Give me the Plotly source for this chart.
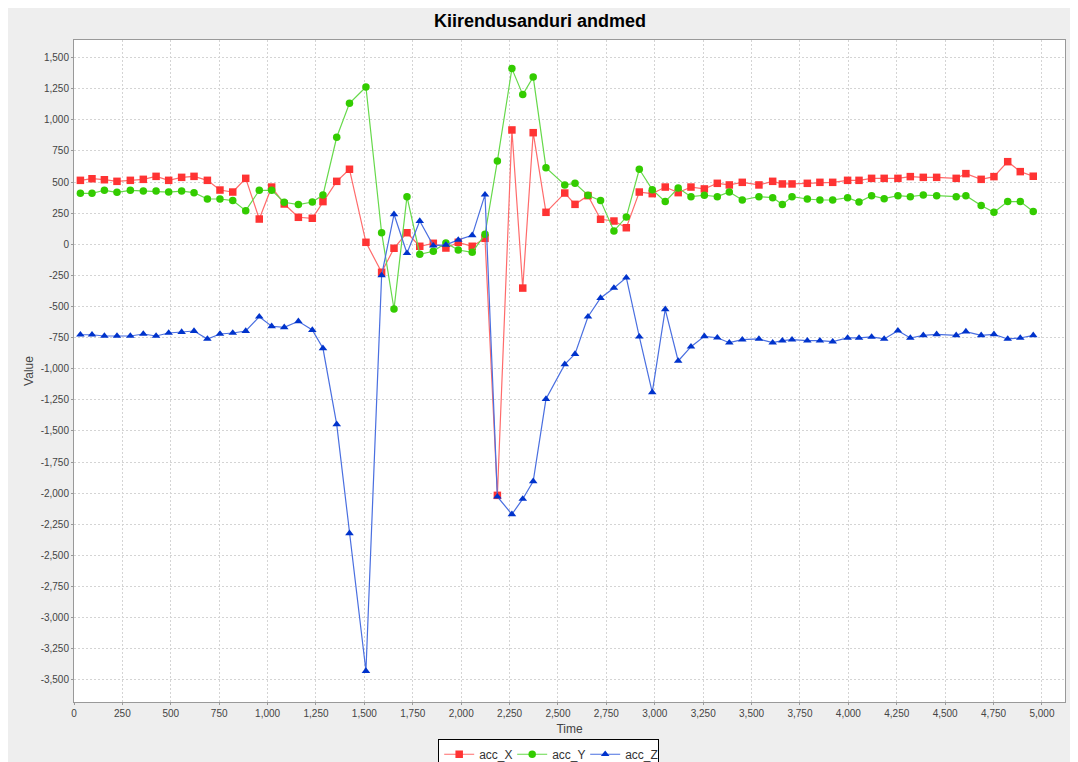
import plotly.graph_objects as go

# ---- data ----
time = [33, 93, 157, 222, 291, 358, 424, 489, 556, 620,
        689, 754, 820, 887, 957, 1021, 1086, 1159, 1231, 1286,
        1357, 1423, 1508, 1589, 1653, 1720, 1786, 1856, 1921, 1985,
        2057, 2123, 2187, 2262, 2318, 2372, 2438, 2535, 2588, 2655,
        2720, 2789, 2853, 2920, 2987, 3054, 3121, 3187, 3256, 3323,
        3385, 3452, 3538, 3609, 3659, 3709, 3788, 3853, 3919, 3996,
        4055, 4120, 4185, 4256, 4320, 4387, 4456, 4557, 4607, 4686,
        4752, 4823, 4888, 4955]

acc_X = [514, 527, 519, 506, 514, 522, 546, 514, 538, 546,
         514, 436, 420, 530, 203, 460, 324, 217, 209, 343,
         506, 603, 16, -225, -32, 93, -16, 8, -30, 16,
         -16, 48, -2018, 919, -352, 897, 257, 412, 321, 391,
         201, 187, 133, 420, 407, 460, 415, 460, 445, 490,
         477, 498, 477, 506, 485, 485, 490, 498, 498, 514,
         514, 530, 530, 530, 544, 538, 538, 530, 568, 522,
         544, 664, 584, 547]

acc_Y = [410, 410, 434, 418, 434, 428, 428, 420, 428, 415,
         364, 364, 351, 270, 434, 434, 338, 319, 340, 396,
         860, 1133, 1264, 93, -520, 383, -80, -56, 10, -46,
         -64, 80, 670, 1412, 1203, 1345, 616, 477, 490, 394,
         351, 107, 219, 603, 439, 343, 452, 383, 394, 383,
         420, 356, 383, 375, 319, 383, 364, 356, 356, 375,
         340, 391, 367, 391, 383, 396, 391, 383, 391, 311,
         257, 343, 343, 263]

acc_Z = [-727, -727, -737, -737, -737, -721, -737, -713, -705, -697,
         -761, -721, -713, -697, -582, -659, -667, -619, -689, -836,
         -1447, -2323, -3430, -250, 241, -72, 187, -11, -5, 35,
         72, 399, -2029, -2170, -2047, -1905, -1244, -965, -882, -582,
         -432, -351, -268, -743, -1190, -523, -938, -823, -740, -751,
         -791, -767, -761, -791, -775, -767, -775, -775, -783, -753,
         -753, -745, -761, -694, -753, -732, -724, -732, -702, -732,
         -724, -761, -753, -732]

x_ticks = list(range(0, 5001, 250))
y_ticks = list(range(-3500, 1501, 250))
x_tick_labels = [f"{v:,}" for v in x_ticks]
y_tick_labels = [f"{v:,}" for v in y_ticks]

series = [
    ("acc_X", acc_X, "square", "#ff3333", "#ff6b6b"),
    ("acc_Y", acc_Y, "circle", "#33cc00", "#66d94a"),
    ("acc_Z", acc_Z, "triangle-up", "#0033cc", "#4a6fe0"),
]

fig = go.Figure()
for name, vals, sym, mcol, lcol in series:
    fig.add_trace(go.Scatter(
        x=time, y=vals, name=name, mode="lines+markers",
        line=dict(color=lcol, width=1.2),
        marker=dict(symbol=sym, color=mcol, size=7.5, line=dict(width=0)),
    ))

tick_font = dict(family="Liberation Sans", size=10, color="#444444")
axis_common = dict(
    showgrid=True, gridcolor="#d4d4d4", griddash="2px,2px", gridwidth=1,
    zeroline=False, showline=True, linecolor="#999999", linewidth=1,
    mirror=True, ticks="outside", ticklen=2, tickcolor="#999999",
    tickfont=tick_font,
)

# page body adds an 8px offset; plot area in figure coords: 66..1057 x 32..694
fig.update_layout(
    width=1078, height=762,
    margin=dict(l=66, r=21, t=32, b=68, autoexpand=False),
    paper_bgcolor="#eeeeee", plot_bgcolor="white",
    title=dict(text="Kiirendusanduri andmed", x=(540 - 8) / 1078, xref="container",
               xanchor="center",
               y=1 - 13 / 762, yref="container", yanchor="middle",
               font=dict(family="Liberation Sans", size=18, color="black", weight="bold")),
    xaxis=dict(range=[0, 5119], tickvals=x_ticks, ticktext=x_tick_labels,
               title=dict(text="Time", standoff=6,
                          font=dict(family="Liberation Sans", size=12, color="#444444")),
               **axis_common),
    yaxis=dict(range=[-3679, 1642], tickvals=y_ticks, ticktext=y_tick_labels,
               title=dict(text="Value", standoff=4,
                          font=dict(family="Liberation Sans", size=12, color="#444444")),
               **axis_common),
    legend=dict(orientation="h", x=0.479, xanchor="center", y=-0.0555, yanchor="top",
                bgcolor="white", bordercolor="black", borderwidth=1,
                font=dict(family="Liberation Sans", size=12, color="#333333"),
                itemwidth=30, tracegroupgap=0,
                entrywidth=28, entrywidthmode="pixels"),
    showlegend=True,
)

fig.write_html("out.html")
